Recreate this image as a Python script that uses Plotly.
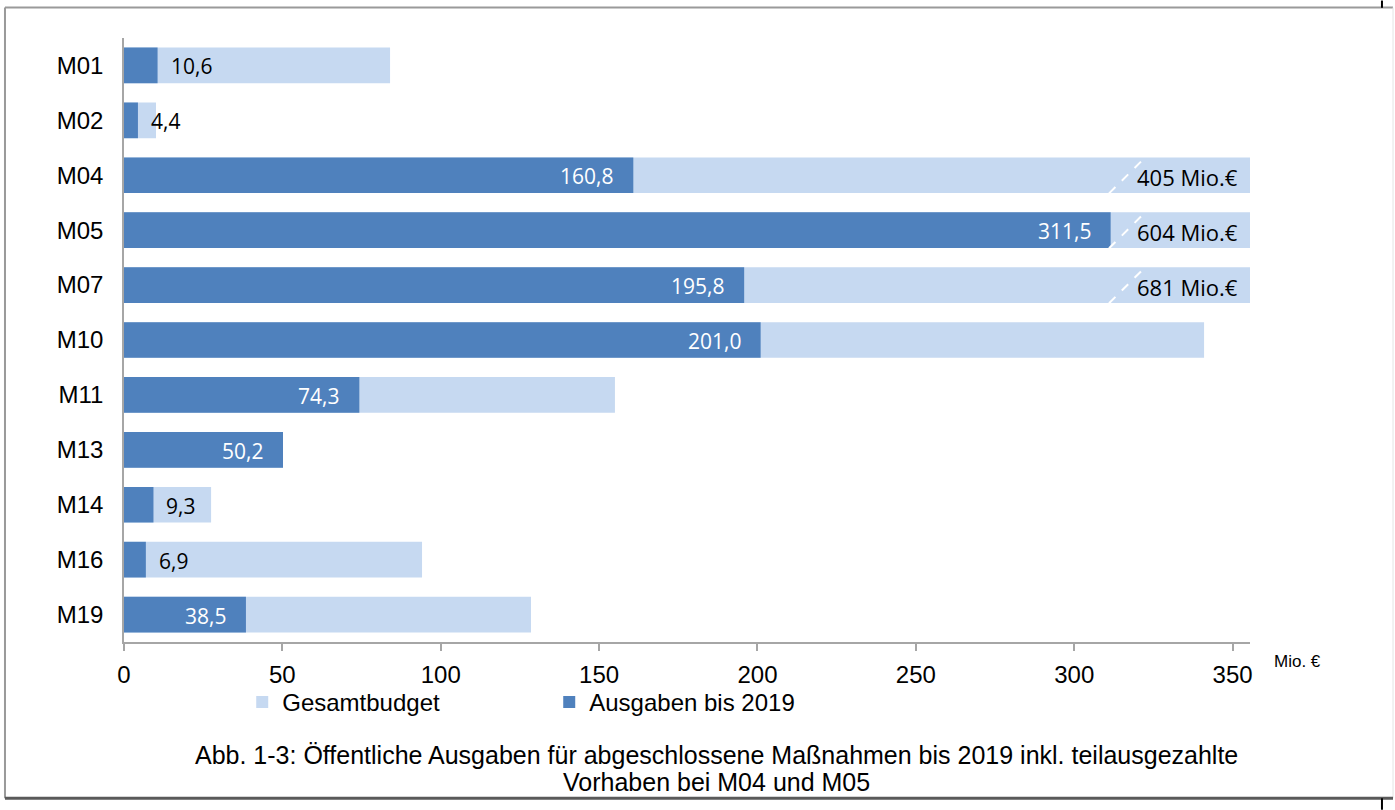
import plotly.graph_objects as go

# Maßnahmen (top to bottom)
massnahmen = ["M01", "M02", "M04", "M05", "M07", "M10", "M11", "M13", "M14", "M16", "M19"]
# Gesamtbudget in Mio. €
gesamtbudget = [84.0, 10.1, 405.0, 604.0, 681.0, 341.0, 155.0, 50.2, 27.5, 94.1, 128.5]
# Ausgaben bis 2019 in Mio. €
ausgaben = [10.6, 4.4, 160.8, 311.5, 195.8, 201.0, 74.3, 50.2, 9.3, 6.9, 38.5]
x_ticks = [0, 50, 100, 150, 200, 250, 300, 350]
x_max = 355.5

LIGHT = "#C6D9F1"
DARK = "#4F81BD"
AXIS = "#A6A6A6"
ARIAL = "Liberation Sans, Arial, sans-serif"
LABEL_FONT = "Open Sans, Lato, sans-serif"


def de_num(v):
    return f"{v:.1f}".replace(".", ",")


fig = go.Figure()
fig.add_trace(go.Bar(
    y=massnahmen, x=gesamtbudget, orientation="h", name="Gesamtbudget",
    marker=dict(color=LIGHT, line=dict(width=0)), width=0.65, hoverinfo="skip",
))
fig.add_trace(go.Bar(
    y=massnahmen, x=ausgaben, orientation="h", name="Ausgaben bis 2019",
    marker=dict(color=DARK, line=dict(width=0)), width=0.65, hoverinfo="skip",
))

annotations = []
shapes = []

# value labels for the spending bars
for i, (m, a) in enumerate(zip(massnahmen, ausgaben)):
    inside = a > 30
    annotations.append(dict(
        x=a, y=m, xref="x", yref="y", text=de_num(a), showarrow=False,
        xanchor="right" if inside else "left",
        xshift=-18 if inside else 11, yshift=-1,
        font=dict(family=LABEL_FONT, size=21, color="white" if inside else "black"),
    ))

# budgets beyond the axis: total as text plus a dashed break mark
for i, (m, g) in enumerate(zip(massnahmen, gesamtbudget)):
    if g > x_max:
        annotations.append(dict(
            x=x_max, y=m, xref="x", yref="y", text=f"{g:.0f} Mio.€", showarrow=False,
            xanchor="right", xshift=-10, yshift=-2,
            font=dict(family=LABEL_FONT, size=22, color="black"),
        ))
        shapes.append(dict(
            type="line", xref="x", yref="y",
            x0=x_max - 44.5, y0=i + 0.33, x1=x_max - 33.0, y1=i - 0.33,
            line=dict(color="white", width=2, dash="dash"), layer="above",
        ))

# unit label next to the x axis
annotations.append(dict(
    x=1.0426, y=-0.032, xref="paper", yref="paper", text="Mio. €", showarrow=False,
    xanchor="center", yanchor="middle", font=dict(family=ARIAL, size=17, color="black"),
))

# figure caption, two lines
caption = [
    "Abb. 1-3: Öffentliche Ausgaben für abgeschlossene Maßnahmen bis 2019 inkl. teilausgezahlte",
    "Vorhaben bei M04 und M05",
]
for line, ypos in zip(caption, [-0.1864, -0.2310]):
    annotations.append(dict(
        x=0.5266, y=ypos, xref="paper", yref="paper", text=line,
        showarrow=False, xanchor="center", yanchor="middle",
        font=dict(family=ARIAL, size=25, color="black"),
    ))

# page frame
frame_l, frame_r, frame_t, frame_b = -0.1057, 1.127, 1.0504, -0.2587
shapes += [
    dict(type="line", xref="paper", yref="paper", x0=frame_l, x1=frame_r, y0=frame_t, y1=frame_t,
         line=dict(color="#9A9A9A", width=2)),
    dict(type="line", xref="paper", yref="paper", x0=frame_l, x1=frame_l, y0=frame_b, y1=frame_t,
         line=dict(color="#9A9A9A", width=2)),
    dict(type="line", xref="paper", yref="paper", x0=frame_r, x1=frame_r, y0=frame_b, y1=frame_t,
         line=dict(color="#E4E4E4", width=1)),
    dict(type="line", xref="paper", yref="paper", x0=frame_l, x1=frame_r, y0=frame_b, y1=frame_b,
         line=dict(color="#5A5A5A", width=3)),
    dict(type="line", xref="paper", yref="paper", x0=1.1172, x1=1.1172, y0=1.062, y1=1.05,
         line=dict(color="black", width=2)),
    dict(type="line", xref="paper", yref="paper", x0=1.1172, x1=1.1172, y0=-0.2587, y1=-0.2777,
         line=dict(color="black", width=2)),
]

fig.update_layout(
    width=1395, height=810,
    margin=dict(l=124, r=145, t=37.5, b=167.5),
    paper_bgcolor="white", plot_bgcolor="white",
    barmode="overlay", bargap=0.35,
    showlegend=True,
    legend=dict(
        orientation="h", x=0.105, y=-0.1, xanchor="left", yanchor="middle",
        font=dict(family=ARIAL, size=24, color="black"),
        entrywidth=262, entrywidthmode="pixels", traceorder="normal",
        bgcolor="rgba(0,0,0,0)",
    ),
    xaxis=dict(
        range=[0, x_max], tickvals=x_ticks, ticktext=[str(t) for t in x_ticks],
        showline=True, linecolor=AXIS, linewidth=1.5,
        ticks="outside", ticklen=7, tickcolor=AXIS, tickwidth=1.5,
        showgrid=False, zeroline=False,
        tickfont=dict(family=ARIAL, size=24, color="black"),
        ticklabelstandoff=3,
    ),
    yaxis=dict(
        categoryorder="array", categoryarray=massnahmen, autorange="reversed",
        showline=True, linecolor=AXIS, linewidth=1.5,
        ticks="", showgrid=False, zeroline=False,
        tickfont=dict(family=ARIAL, size=24, color="black"),
        ticklabelstandoff=14,
    ),
    annotations=annotations,
    shapes=shapes,
)

fig.write_html("out.html")
